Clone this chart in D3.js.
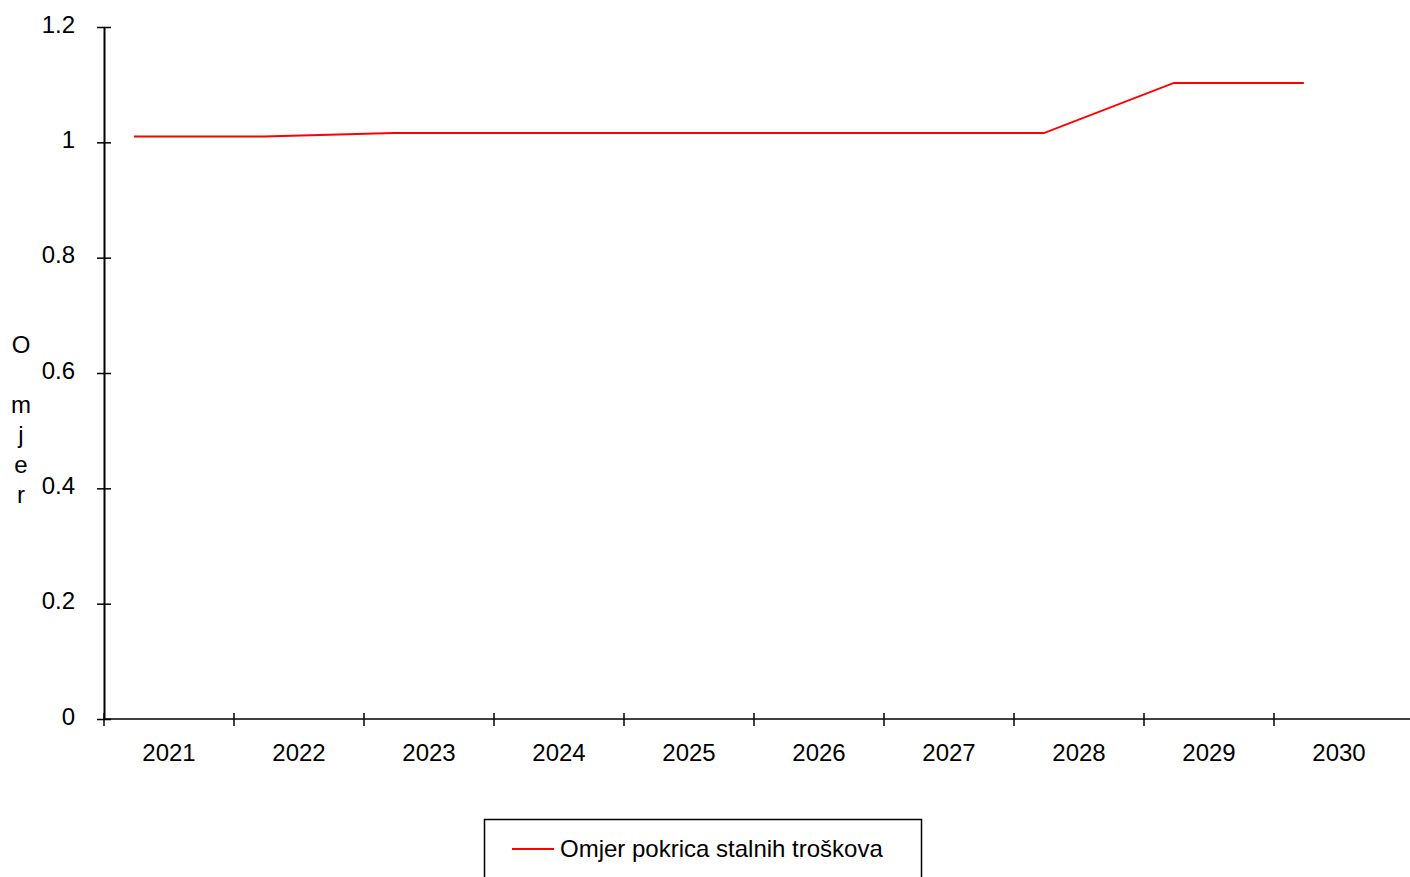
<!DOCTYPE html>
<html><head><meta charset="utf-8">
<script src="https://cdn.jsdelivr.net/npm/d3@7"></script>
<style>body{margin:0;background:#fff}svg{display:block;font-family:"Liberation Sans",Arial,sans-serif}</style>
</head><body>
<svg id="c" width="1410" height="877"></svg>
<script>
const categories = ["2021","2022","2023","2024","2025","2026","2027","2028","2029","2030"];
const values = [1.010, 1.010, 1.016, 1.016, 1.016, 1.016, 1.016, 1.016, 1.103, 1.103];
const yTicks = [0, 0.2, 0.4, 0.6, 0.8, 1, 1.2];
const seriesName = "Omjer pokrica stalnih troškova";
const yTitle = "Omjer";

(function(){
const svg = d3.select("#c");
const mLeft = 104, mTop = 27, mBottom = 719;
const FS = 24;
const x = d3.scaleBand().domain(categories).range([mLeft, mLeft + 130 * categories.length]);
const y = d3.scaleLinear().domain([0, 1.2]).range([mBottom, mTop]);

// y axis
const yAxis = svg.append("g").attr("transform", `translate(${mLeft},0)`)
  .call(d3.axisLeft(y).tickValues(yTicks).tickFormat(d => String(d)).tickSize(7).tickSizeOuter(0));
yAxis.attr("font-size", null).attr("font-family", null);
yAxis.select(".domain").attr("stroke", "#000").attr("stroke-width", 2);
yAxis.selectAll(".tick line").attr("x1", -7).attr("x2", 7).attr("stroke", "#000").attr("stroke-width", 1.5);
yAxis.selectAll(".tick text").attr("x", -29).attr("y", 5).attr("dy", null)
  .style("font-size", FS + "px").attr("fill", "#000");

// x axis
const xAxis = svg.append("g").attr("transform", `translate(0,${mBottom})`)
  .call(d3.axisBottom(x).tickSize(0).tickSizeOuter(0));
xAxis.attr("font-size", null).attr("font-family", null);
xAxis.select(".domain").attr("d", `M${mLeft},0H1410`).attr("stroke", "#000").attr("stroke-width", 1.5);
xAxis.selectAll(".tick text").style("font-size", FS + "px").attr("fill", "#000").attr("y", 42).attr("dy", null);
svg.append("g").selectAll("line").data(categories).join("line")
  .attr("x1", d => x(d)).attr("x2", d => x(d))
  .attr("y1", mBottom - 6).attr("y2", mBottom + 7)
  .attr("stroke", "#000").attr("stroke-width", 1.5);

// y title stacked letters
const letterY = [347, 407, 437, 467, 497];
svg.append("g").selectAll("text").data(yTitle.split("")).join("text")
  .attr("x", 21).attr("y", (d, i) => letterY[i]).attr("text-anchor", "middle")
  .attr("dominant-baseline", "middle").style("font-size", FS + "px").text(d => d);

// line
const px = d => x(d) + x.bandwidth() * 0.23;
const line = d3.line().x((d, i) => px(categories[i])).y(d => y(d));
svg.append("path").datum(values).attr("d", line)
  .attr("fill", "none").attr("stroke", "#ff0000").attr("stroke-width", 2);

// legend
svg.append("rect").attr("x", 484.5).attr("y", 819.5).attr("width", 437).attr("height", 80)
  .attr("fill", "#fff").attr("stroke", "#000").attr("stroke-width", 1.5);
svg.append("line").attr("x1", 512).attr("x2", 554).attr("y1", 849).attr("y2", 849)
  .attr("stroke", "#ff0000").attr("stroke-width", 2);
svg.append("text").attr("x", 560).attr("y", 857).style("font-size", FS + "px").text(seriesName);
})();
</script>
</body></html>
